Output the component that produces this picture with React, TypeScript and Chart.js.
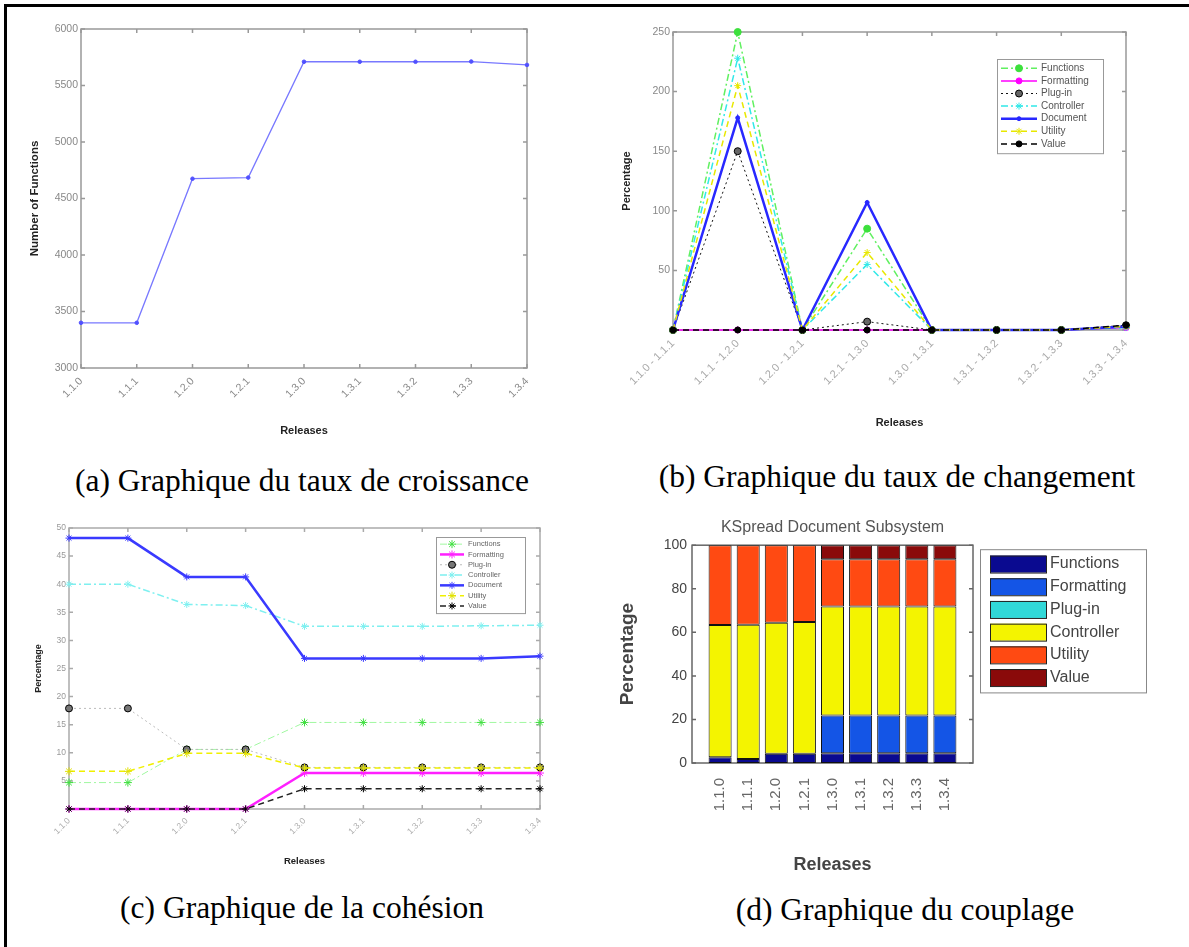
import React, { useEffect, useRef } from 'react';
import { Chart, registerables } from 'chart.js';

Chart.register(...registerables);

// ---------------- DATA ----------------
const releases = ['1.1.0', '1.1.1', '1.2.0', '1.2.1', '1.3.0', '1.3.1', '1.3.2', '1.3.3', '1.3.4'];
const functionCounts = [3400, 3400, 4675, 4685, 5710, 5710, 5710, 5712, 5682];

const transitions = [
  '1.1.0 - 1.1.1', '1.1.1 - 1.2.0', '1.2.0 - 1.2.1', '1.2.1 - 1.3.0',
  '1.3.0 - 1.3.1', '1.3.1 - 1.3.2', '1.3.2 - 1.3.3', '1.3.3 - 1.3.4',
];
const changeFunctions = [0, 250, 0, 85, 0, 0, 0, 3];
const changeFormatting = [0, 0, 0, 0, 0, 0, 0, 2];
const changePlugin = [0, 150, 0, 7, 0, 0, 0, 4];
const changeController = [0, 228, 0, 55, 0, 0, 0, 2];
const changeDocument = [0, 178, 0, 107, 0, 0, 0, 3];
const changeUtility = [0, 205, 0, 65, 0, 0, 0, 3];
const changeValue = [0, 0, 0, 0, 0, 0, 0, 4];

const cohFunctions = [4.7, 4.7, 10.6, 10.6, 15.4, 15.4, 15.4, 15.4, 15.4];
const cohFormatting = [0, 0, 0, 0, 6.4, 6.4, 6.4, 6.4, 6.4];
const cohPlugin = [17.9, 17.9, 10.6, 10.6, 7.4, 7.4, 7.4, 7.4, 7.4];
const cohController = [40, 40, 36.4, 36.2, 32.5, 32.5, 32.5, 32.6, 32.7];
const cohDocument = [48.2, 48.2, 41.3, 41.3, 26.8, 26.8, 26.8, 26.8, 27.2];
const cohUtility = [6.7, 6.7, 9.9, 9.9, 7.3, 7.3, 7.3, 7.3, 7.3];
const cohValue = [0, 0, 0, 0, 3.6, 3.6, 3.6, 3.6, 3.6];

const coupFunctions = [2.6, 1.8, 4.3, 4.3, 4.5, 4.5, 4.5, 4.5, 4.5];
const coupFormatting = [0, 0, 0, 0, 17.3, 17.3, 17.3, 17.3, 17.3];
const coupPlugin = [0, 0, 0, 0, 0, 0, 0, 0, 0];
const coupController = [60.8, 61.7, 60.1, 60.4, 50, 50, 50, 50, 50];
const coupUtility = [36.6, 36.5, 35.6, 35.3, 21.7, 21.7, 21.7, 21.7, 21.7];
const coupValue = [0, 0, 0, 0, 6.5, 6.5, 6.5, 6.5, 6.5];

const captions = [
  '(a) Graphique du taux de croissance',
  '(b) Graphique du taux de changement',
  '(c) Graphique de la cohésion',
  '(d) Graphique du couplage',
];

// ---------------- STYLE HELPERS ----------------
const SANS = '"Liberation Sans", Arial, sans-serif';
const SERIF = '"Liberation Serif", "Times New Roman", serif';
const DASHDOT = [7, 3, 2, 3];
const DASHED = [6, 4];
const DOTTED = [2, 3];

function drawMarker(ctx: CanvasRenderingContext2D, style: string, x: number, y: number, r: number, fill: string, stroke: string) {
  if (!r) return;
  ctx.save();
  ctx.setLineDash([]);
  ctx.fillStyle = fill;
  ctx.strokeStyle = stroke;
  ctx.lineWidth = 1;
  ctx.beginPath();
  if (style === 'star') {
    for (let k = 0; k < 4; k++) {
      const a = (k * Math.PI) / 4;
      ctx.moveTo(x - r * Math.cos(a), y - r * Math.sin(a));
      ctx.lineTo(x + r * Math.cos(a), y + r * Math.sin(a));
    }
    ctx.stroke();
  } else {
    ctx.arc(x, y, r, 0, Math.PI * 2);
    ctx.fill();
    ctx.stroke();
  }
  ctx.restore();
}

const matlabBox = {
  id: 'matlabBox',
  beforeDatasetsDraw(chart: any, _args: any, opts: any) {
    if (!opts || !opts.enabled) return;
    const { ctx, chartArea: a } = chart;
    const xs = chart.scales.x;
    const ys = chart.scales.y;
    const tl = opts.tickLen ?? 4;
    ctx.save();
    ctx.strokeStyle = opts.color || '#888';
    ctx.lineWidth = opts.lineWidth || 1;
    ctx.strokeRect(a.left, a.top, a.right - a.left, a.bottom - a.top);
    ctx.beginPath();
    if (opts.xTicks !== false) {
      xs.ticks.forEach((_t: any, i: number) => {
        const px = xs.getPixelForTick(i);
        ctx.moveTo(px, a.bottom);
        ctx.lineTo(px, a.bottom - tl);
        ctx.moveTo(px, a.top);
        ctx.lineTo(px, a.top + tl);
      });
    }
    ys.ticks.forEach((t: any) => {
      const py = ys.getPixelForValue(t.value);
      ctx.moveTo(a.left, py);
      ctx.lineTo(a.left + tl, py);
      ctx.moveTo(a.right, py);
      ctx.lineTo(a.right - tl, py);
    });
    ctx.stroke();
    ctx.restore();
  },
};

const boxLegend = {
  id: 'boxLegend',
  afterDraw(chart: any, _args: any, o: any) {
    if (!o || !o.enabled) return;
    const { ctx, chartArea: a } = chart;
    const dss = chart.data.datasets;
    const x = a.right + o.dx;
    const y = a.top + o.dy;
    const h = o.pad * 2 + dss.length * o.rowH;
    ctx.save();
    ctx.fillStyle = '#fff';
    ctx.fillRect(x, y, o.w, h);
    ctx.strokeStyle = o.border || '#888';
    ctx.lineWidth = 1;
    ctx.strokeRect(x + 0.5, y + 0.5, o.w, h);
    dss.forEach((ds: any, i: number) => {
      const cy = y + o.pad + o.rowH * (i + 0.5);
      if (o.kind === 'swatch') {
        ctx.fillStyle = ds.backgroundColor;
        ctx.fillRect(x + o.sx, cy - o.sh / 2, o.sw, o.sh);
        ctx.strokeStyle = '#222';
        ctx.lineWidth = 1;
        ctx.strokeRect(x + o.sx + 0.5, cy - o.sh / 2 + 0.5, o.sw, o.sh);
      } else {
        ctx.strokeStyle = ds.borderColor;
        ctx.lineWidth = ds.borderWidth;
        ctx.setLineDash(ds.borderDash || []);
        ctx.beginPath();
        ctx.moveTo(x + o.sx, cy);
        ctx.lineTo(x + o.sx + o.sw, cy);
        ctx.stroke();
        ctx.setLineDash([]);
        drawMarker(ctx, ds.pointStyle, x + o.sx + o.sw / 2, cy, ds.pointRadius, ds.pointBackgroundColor, ds.pointBorderColor);
      }
      ctx.fillStyle = o.textColor || '#333';
      ctx.font = o.font;
      ctx.textBaseline = 'middle';
      ctx.textAlign = 'left';
      ctx.fillText(ds.label, x + o.tx, cy);
    });
    ctx.restore();
  },
};

Chart.register(matlabBox, boxLegend);

function lineDs(label: string, data: number[], color: string, width: number, dash: number[], ps: string, pr: number, pfill: string, pstroke: string, order: number) {
  return {
    label, data, borderColor: color, borderWidth: width, borderDash: dash,
    pointStyle: ps, pointRadius: pr, pointBackgroundColor: pfill, pointBorderColor: pstroke,
    pointBorderWidth: 1, tension: 0, fill: false, clip: false, order,
  };
}

function axisX(tickSize: number, titleSize: number, pad: number, titleBottom: number, height: number, rot: number, tickColor: string) {
  return {
    grid: { display: false, drawTicks: false },
    border: { display: false },
    ticks: { font: { family: SANS, size: tickSize }, color: tickColor, minRotation: rot, maxRotation: rot, padding: pad, autoSkip: false },
    title: { display: true, text: 'Releases', font: { family: SANS, size: titleSize, weight: 'bold' }, color: '#222', padding: { top: 0, bottom: titleBottom } },
    afterFit: (s: any) => { s.height = height; },
  };
}

function axisY(min: number, max: number, step: number, tickSize: number, titleText: string, titleSize: number, titleTop: number, width: number, hideZero: boolean, tickColor: string) {
  return {
    min, max,
    grid: { display: false, drawTicks: false },
    border: { display: false },
    ticks: {
      stepSize: step, font: { family: SANS, size: tickSize }, color: tickColor, padding: 3,
      callback: (v: any) => (hideZero && v === 0 ? '' : String(v)),
    },
    title: { display: true, text: titleText, font: { family: SANS, size: titleSize, weight: 'bold' }, color: '#222', padding: { top: titleTop, bottom: 0 } },
    afterFit: (s: any) => { s.width = width; },
  };
}

const common = { animation: false, responsive: false, devicePixelRatio: 1, events: [] as any[] };

// ---------------- CONFIGS ----------------
function configA(): any {
  return {
    type: 'line',
    data: {
      labels: releases,
      datasets: [lineDs('Number of Functions', functionCounts, '#7878ff', 1.3, [], 'circle', 1.8, '#5050ff', '#5050ff', 0)],
    },
    options: {
      ...common,
      layout: { padding: { top: 19, right: 43, left: 0, bottom: 0 } },
      plugins: { legend: { display: false }, tooltip: { enabled: false }, matlabBox: { enabled: true, color: '#999', lineWidth: 1.5 } },
      scales: {
        x: axisX(10.5, 11, 7, 12, 82, 45, '#888'),
        y: axisY(3000, 6000, 500, 10.5, 'Number of Functions', 11.5, 18, 71, false, '#888'),
      },
    },
  };
}

function configB(): any {
  return {
    type: 'line',
    data: {
      labels: transitions,
      datasets: [
        lineDs('Functions', changeFunctions, '#60f060', 1.5, DASHDOT, 'circle', 3.5, '#3ce03c', '#3ce03c', 0),
        lineDs('Formatting', changeFormatting, '#ff00ff', 1.5, [], 'circle', 3, '#ff00ff', '#ff00ff', -1),
        lineDs('Plug-in', changePlugin, '#111111', 1, DOTTED, 'circle', 3.5, '#666666', '#000000', -2),
        lineDs('Controller', changeController, '#30e8e8', 1.5, DASHDOT, 'star', 3.5, '#30e8e8', '#30e8e8', -3),
        lineDs('Document', changeDocument, '#2828ff', 2.5, [], 'circle', 2, '#2828ff', '#2828ff', -4),
        lineDs('Utility', changeUtility, '#e8e800', 1.5, DASHED, 'star', 3.5, '#e8e800', '#e8e800', -5),
        lineDs('Value', changeValue, '#000000', 1.5, DASHED, 'circle', 3, '#000000', '#000000', -6),
      ],
    },
    options: {
      ...common,
      layout: { padding: { top: 22, right: 54, left: 0, bottom: 0 } },
      plugins: {
        legend: { display: false }, tooltip: { enabled: false },
        matlabBox: { enabled: true, color: '#999', lineWidth: 1.5 },
        boxLegend: { enabled: true, kind: 'line', dx: -129, dy: 27, w: 106, rowH: 12.6, pad: 3, sx: 4, sw: 36, tx: 44, font: `10px ${SANS}`, textColor: '#555', border: '#999' },
      },
      scales: {
        x: axisX(11, 11, 7, 20, 120, 45, '#aaa'),
        y: axisY(0, 250, 50, 10.5, 'Percentage', 11, 20, 73, true, '#888'),
      },
    },
  };
}

function configC(): any {
  return {
    type: 'line',
    data: {
      labels: releases,
      datasets: [
        lineDs('Functions', cohFunctions, '#a0f8a0', 1, DASHDOT, 'star', 4, '#40e040', '#40e040', 0),
        lineDs('Formatting', cohFormatting, '#ff20ff', 2.5, [], 'star', 4, '#ff20ff', '#ff20ff', -1),
        lineDs('Plug-in', cohPlugin, '#bbbbbb', 1, DOTTED, 'circle', 3.5, '#777777', '#000000', -2),
        lineDs('Controller', cohController, '#7ef0f0', 1.5, DASHDOT, 'star', 3.5, '#7ef0f0', '#7ef0f0', -3),
        lineDs('Document', cohDocument, '#3a3aff', 2.5, [], 'star', 3.5, '#3a3aff', '#3a3aff', -4),
        lineDs('Utility', cohUtility, '#f0f000', 1.5, DASHED, 'star', 4, '#e0e000', '#e0e000', -5),
        lineDs('Value', cohValue, '#222222', 1.5, DASHED, 'star', 3.5, '#000000', '#000000', -6),
      ],
    },
    options: {
      ...common,
      layout: { padding: { top: 23, right: 30, left: 0, bottom: 0 } },
      plugins: {
        legend: { display: false }, tooltip: { enabled: false },
        matlabBox: { enabled: true, color: '#aaa', lineWidth: 1.5 },
        boxLegend: { enabled: true, kind: 'line', dx: -104, dy: 9, w: 89, rowH: 10.3, pad: 2, sx: 4, sw: 24, tx: 32, font: `7.5px ${SANS}`, textColor: '#666', border: '#999' },
      },
      scales: {
        x: axisX(8.5, 9.5, 7, 18, 76, 45, '#aaa'),
        y: axisY(0, 50, 5, 8.5, 'Percentage', 9, 23, 59, true, '#999'),
      },
    },
  };
}

function barDs(label: string, data: number[], color: string) {
  return {
    label,
    data: data.map((y, i) => ({ x: i + 1, y })),
    backgroundColor: color,
    borderColor: '#111',
    borderWidth: 1,
    borderSkipped: false,
    categoryPercentage: 1,
    barPercentage: 0.82,
  };
}

function configD(): any {
  return {
    type: 'bar',
    data: {
      datasets: [
        barDs('Functions', coupFunctions, '#0a0a90'),
        barDs('Formatting', coupFormatting, '#1455e6'),
        barDs('Plug-in', coupPlugin, '#30d8d8'),
        barDs('Controller', coupController, '#f4f400'),
        barDs('Utility', coupUtility, '#ff4a12'),
        barDs('Value', coupValue, '#8a0a0a'),
      ],
    },
    options: {
      ...common,
      layout: { padding: { top: 0, right: 207, left: 0, bottom: 0 } },
      plugins: {
        legend: { display: false }, tooltip: { enabled: false },
        title: {
          display: true, text: 'KSpread Document Subsystem', fullSize: false,
          font: { family: SANS, size: 16, weight: 'normal', lineHeight: 1.2 }, color: '#555',
          padding: { top: 13, bottom: 8 },
        },
        matlabBox: { enabled: true, color: '#666', lineWidth: 1.5, xTicks: false },
        boxLegend: { enabled: true, kind: 'swatch', dx: 7, dy: 4, w: 166, rowH: 22.7, pad: 3.5, sx: 10, sw: 56, sh: 17, tx: 70, font: `16px ${SANS}`, textColor: '#444', border: '#888' },
      },
      scales: {
        x: {
          type: 'linear', min: 0, max: 10, offset: false, stacked: true,
          grid: { display: false, drawTicks: false }, border: { display: false },
          afterBuildTicks: (s: any) => { s.ticks = releases.map((_r, i) => ({ value: i + 1 })); },
          ticks: { autoSkip: false, minRotation: 90, maxRotation: 90, padding: 15, font: { family: SANS, size: 15 }, color: '#666', callback: (v: any) => releases[Number(v) - 1] ?? '' },
          title: { display: true, text: 'Releases', font: { family: SANS, size: 18, weight: 'bold' }, color: '#444', padding: { top: 0, bottom: 9 } },
          afterFit: (s: any) => { s.height = 122; },
        },
        y: {
          min: 0, max: 100, stacked: true,
          grid: { display: false, drawTicks: false }, border: { display: false },
          ticks: { stepSize: 20, font: { family: SANS, size: 14 }, color: '#444', padding: 5 },
          title: { display: true, text: 'Percentage', font: { family: SANS, size: 19, weight: 'bold' }, color: '#444', padding: { top: 16, bottom: 0 } },
          afterFit: (s: any) => { s.width = 92; },
        },
      },
    },
  };
}

// ---------------- COMPONENTS ----------------
function ChartCanvas({ left, top, width, height, make }: { left: number; top: number; width: number; height: number; make: () => any }) {
  const ref = useRef<HTMLCanvasElement | null>(null);
  useEffect(() => {
    if (!ref.current) return;
    const chart = new Chart(ref.current, make());
    return () => chart.destroy();
  }, []);
  return (
    <canvas
      ref={ref}
      width={width}
      height={height}
      style={{ position: 'absolute', left, top, width, height }}
    />
  );
}

function Caption({ text, cx, cy }: { text: string; cx: number; cy: number }) {
  return (
    <div
      style={{
        position: 'absolute', left: cx - 300, top: cy - 17, width: 600, textAlign: 'center',
        fontFamily: SERIF, fontSize: 31.5, lineHeight: '34px', color: '#000', whiteSpace: 'nowrap',
      }}
    >
      {text}
    </div>
  );
}

export default function App() {
  return (
    <div style={{ position: 'absolute', left: 0, top: 0, width: 1189, height: 947, background: '#fff', overflow: 'hidden' }}>
      <div style={{ position: 'absolute', left: 4, top: 4, width: 1200, height: 960, borderTop: '3px solid #000', borderLeft: '3px solid #000' }} />
      <ChartCanvas left={10} top={10} width={560} height={440} make={configA} />
      <ChartCanvas left={600} top={10} width={580} height={440} make={configB} />
      <ChartCanvas left={10} top={505} width={560} height={380} make={configC} />
      <ChartCanvas left={600} top={505} width={580} height={380} make={configD} />
      <Caption text={captions[0]} cx={302} cy={481} />
      <Caption text={captions[1]} cx={897} cy={477} />
      <Caption text={captions[2]} cx={302} cy={908} />
      <Caption text={captions[3]} cx={905} cy={910} />
    </div>
  );
}
